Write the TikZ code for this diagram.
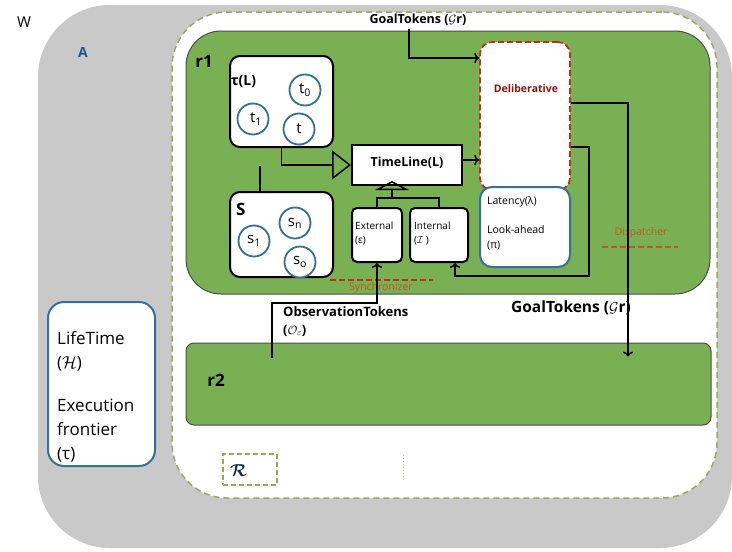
\documentclass[tikz,border=0pt]{standalone}
\usepackage{fontspec}
\setmainfont{Open Sans}
\usepackage{amssymb}
\usepackage{bm}
\usetikzlibrary{positioning,calc,arrows.meta}
\definecolor{wgray}{RGB}{201,201,201}
\definecolor{rgreen}{RGB}{122,176,84}
\definecolor{agreen}{RGB}{152,170,98}
\definecolor{cblue}{RGB}{52,112,152}
\definecolor{dred}{RGB}{188,48,30}
\definecolor{dorange}{RGB}{190,88,30}
\definecolor{dtext}{RGB}{140,22,20}
\definecolor{ablue}{RGB}{28,86,136}
\newcommand{\fsz}[2]{\fontsize{#1}{#2}\selectfont}

\begin{document}
\begin{tikzpicture}[x=1pt,y=-1pt,
    region/.style={draw=black!70, line width=1pt, fill=rgreen, rounded corners=#1, inner sep=0pt},
    setbox/.style={draw=black, line width=2pt, fill=white, rounded corners=10pt, inner sep=0pt},
    tok/.style={circle, draw=cblue, line width=1.8pt, fill=white, minimum size=31pt, inner sep=0pt, font=\fsz{15}{15}},
    flow/.style={draw=black, line width=1.5pt, ->},
    conn/.style={draw=black, line width=1.5pt},
    redash/.style={draw=dred, line width=1.8pt, dash pattern=on 6pt off 3pt},
    small/.style={font=\fsz{10}{14}, align=left, anchor=north west, inner sep=0pt}]
  \useasboundingbox (0,0) rectangle (732,552);
  \node[fill=wgray, rounded corners=72pt, minimum width=694pt, minimum height=543pt, inner sep=0pt] (world) at (385,276.5) {};
  \node[draw=agreen, fill=white, line width=1.5pt, dash pattern=on 6pt off 4pt, rounded corners=55pt,
        minimum width=545pt, minimum height=486pt, inner sep=0pt] (agent) at (444.5,255) {};
  \node[font=\fsz{15}{15}] (wlbl) at (24,22) {W};
  \node[font=\bfseries\fsz{14}{14}, text=ablue] (albl) at (83,52) {A};

  \node[region=35pt, minimum width=524pt, minimum height=263pt] (r1) at (448,162.5) {};
  \node[region=8pt, minimum width=525pt, minimum height=82pt] (r2) at (448.5,384) {};
  \node[font=\bfseries\fsz{17}{17}] (r1lbl) at (204,61) {r1};
  \node[font=\bfseries\fsz{17}{17}] (r2lbl) at (216,380) {r2};

  \node[setbox, minimum width=103pt, minimum height=91pt] (taubox) at (281.5,101.5) {};
  \node[font=\bfseries\fsz{14}{14}, anchor=west, inner sep=0pt] (taulbl) at (231,82) {τ(L)};
  \node[tok] (t0) at (305,90) {t\textsubscript{0}};
  \node[tok] (t1) at (253,119) {\hspace*{6pt}t\textsubscript{1}};
  \node[tok] (tt) at (299,129) {t};

  \node[setbox, minimum width=103pt, minimum height=85pt] (sbox) at (281.5,234.5) {};
  \node[font=\bfseries\fsz{17}{17}, anchor=west, inner sep=0pt] (slbl) at (236,209) {S};
  \node[tok] (s1) at (254,241) {s\textsubscript{1}};
  \node[tok] (sn) at (295,223) {s\textsubscript{n}};
  \node[tok] (so) at (300,262) {s\textsubscript{o}};

  \node[draw=black, line width=2pt, fill=white, minimum width=110pt, minimum height=40pt, inner sep=0pt,
        font=\bfseries\fsz{12.5}{12.5}] (timeline) at (407,165) {\raisebox{6pt}{TimeLine(L)}};
  \node[setbox, rounded corners=5pt, minimum width=50pt, minimum height=54pt] (ext) at (377,235) {};
  \node[setbox, rounded corners=5pt, minimum width=58pt, minimum height=54pt] (int) at (439,235) {};
  \node[small] (extlbl) at (355,222) {External\\(ε)};
  \node[small] (intlbl) at (414,222) {Internal\\($\mathcal{I}$ )};

  \node[draw=dred, fill=white, line width=1.8pt, dash pattern=on 6pt off 3pt, rounded corners=12pt,
        minimum width=90pt, minimum height=148pt, inner sep=0pt] (delib) at (525,116) {};
  \node[font=\bfseries\fsz{10.5}{10.5}, text=dtext] (delibtxt) at (526,89) {Deliberative};
  \node[draw=cblue, fill=white, line width=2pt, rounded corners=12pt, minimum width=90pt, minimum height=80pt,
        inner sep=0pt] (lat) at (525,227) {};
  \node[font=\fsz{10.5}{15}, align=left, anchor=north west, inner sep=0pt] (latlbl) at (487,196)
    {Latency(λ)\\[14pt]Look-ahead\\(π)};

  \draw[redash] (330,280) -- (433,280);
  \node[font=\fsz{10.5}{10.5}, text=dorange] (synclbl) at (381,288) {Synchronizer};
  \node[font=\fsz{10.5}{10.5}, text=dorange] (displbl) at (641,233) {Dispatcher};
  \draw[redash, draw=dorange] (602,247) -- (678,247);

  \node[draw=cblue, fill=white, line width=2pt, rounded corners=16pt, minimum width=107pt, minimum height=164pt,
        inner sep=0pt] (life) at (101.5,384) {};
  \node[font=\fsz{17}{24}, align=left, anchor=north west, inner sep=0pt] (lifelbl) at (57,331)
    {LifeTime\\($\mathcal{H}$)\\[19pt]Execution\\frontier\\(τ)};

  \node[draw=agreen, line width=1.5pt, dash pattern=on 5pt off 3pt, minimum width=54pt, minimum height=31pt,
        inner sep=0pt] (rbox) at (250,469.5) {};
  \node[font=\fsz{16}{16}, text=ablue!50!black, anchor=west, inner sep=0pt] (rlbl) at (230,471) {$\bm{\mathcal{R}}$};
  \draw[agreen!60, line width=1pt, dotted] (403,455) -- (403,482);

  \node[font=\bfseries\fsz{12.5}{12.5}] (goaltop) at (418,20) {GoalTokens ($\mathcal{G}$r)};
  \node[font=\bfseries\fsz{15.5}{15.5}] (goalbot) at (571,308) {GoalTokens ($\mathcal{G}$r)};
  \node[font=\bfseries\fsz{13}{18}, align=left, anchor=north west, inner sep=0pt] (obslbl) at (283,306)
    {ObservationTokens\\($\mathcal{O}_\varepsilon$)};

  \draw[conn, -{Triangle[open, length=19pt, width=29pt]}] (taubox.south) |- (timeline.west);
  \draw[conn] ([xshift=-21.5pt]sbox.north) -- ++(0,-25);
  \draw[flow] ([yshift=5pt]timeline.east) -- ([yshift=-44pt]delib.west);
  \coordinate (fork) at (392,198);
  \draw[conn] (ext.north) |- (fork) -| (int.north);
  \draw[conn, -{Triangle[open, length=9pt, width=34pt]}] (fork) -- ([xshift=-15pt, yshift=5pt]timeline.south);
  \draw[flow] ([xshift=-9pt]goaltop.south) |- ([yshift=58pt]delib.west);
  \draw[flow] ([yshift=13pt]delib.east) -| ([xshift=179.5pt, yshift=-14pt]r2.north);
  \draw[flow] ([yshift=-31pt]delib.east) -- ++(18,0) |- ([xshift=16pt, yshift=-13pt]int.south) -- ([xshift=16pt]int.south);
  \draw[flow] ([xshift=-176.5pt, yshift=-15pt]r2.north) |- ([yshift=-40pt]ext.south) -- (ext.south);
\end{tikzpicture}
\end{document}
